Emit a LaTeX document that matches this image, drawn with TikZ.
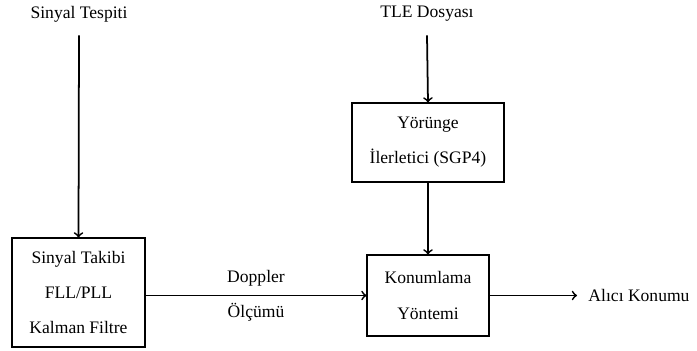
\documentclass[tikz,border=0pt]{standalone}
\usepackage{fontspec}
\setmainfont{Liberation Serif}
\usetikzlibrary{positioning}
\usetikzlibrary{arrows.meta}

\begin{document}
\begin{tikzpicture}[x=0.02cm, y=-0.02cm,
                    every node/.style={align=center, font=\fontsize{10pt}{20pt}\selectfont},
                    blok/.style={draw, line width=0.6pt},
                    girdi/.style={minimum height=0.84cm},
                    ok/.style={draw, line width=1pt, -to}]
    \useasboundingbox (0,0) rectangle (697,351);
    % girdiler
    \node[girdi] (tespit) at (79,14) {Sinyal Tespiti};
    \node[girdi] (tle) at (427,14) {TLE Dosyas\i};
    % bloklar
    \node[blok, minimum width=2.66cm, minimum height=2.18cm] (takip) at (78.5,292.5)
        {Sinyal Takibi\\FLL/PLL\\Kalman Filtre};
    \node[blok, minimum width=3.04cm, minimum height=1.58cm] (sgp) at (428,142.5)
        {Yörünge\\İlerletici (SGP4)};
    \node[blok, minimum width=2.44cm, minimum height=1.62cm] (konum) at (428,295.5)
        {Konumlama\\Yöntemi};
    \node (cikis) at (639,295.5) {Al\i c\i{} Konumu};
    % baglantilar
    \draw[ok] (tespit.south) -- (takip.north);
    \draw[ok] (tle.south) -- (sgp.north);
    \draw[ok] (sgp.south) -- (konum.north);
    \draw[ok] (takip.east |- konum.west) -- node {Doppler\\Ölçümü} (konum.west);
    \draw[ok, shorten >=3pt] (konum.east) -- (cikis.west);
\end{tikzpicture}
\end{document}
